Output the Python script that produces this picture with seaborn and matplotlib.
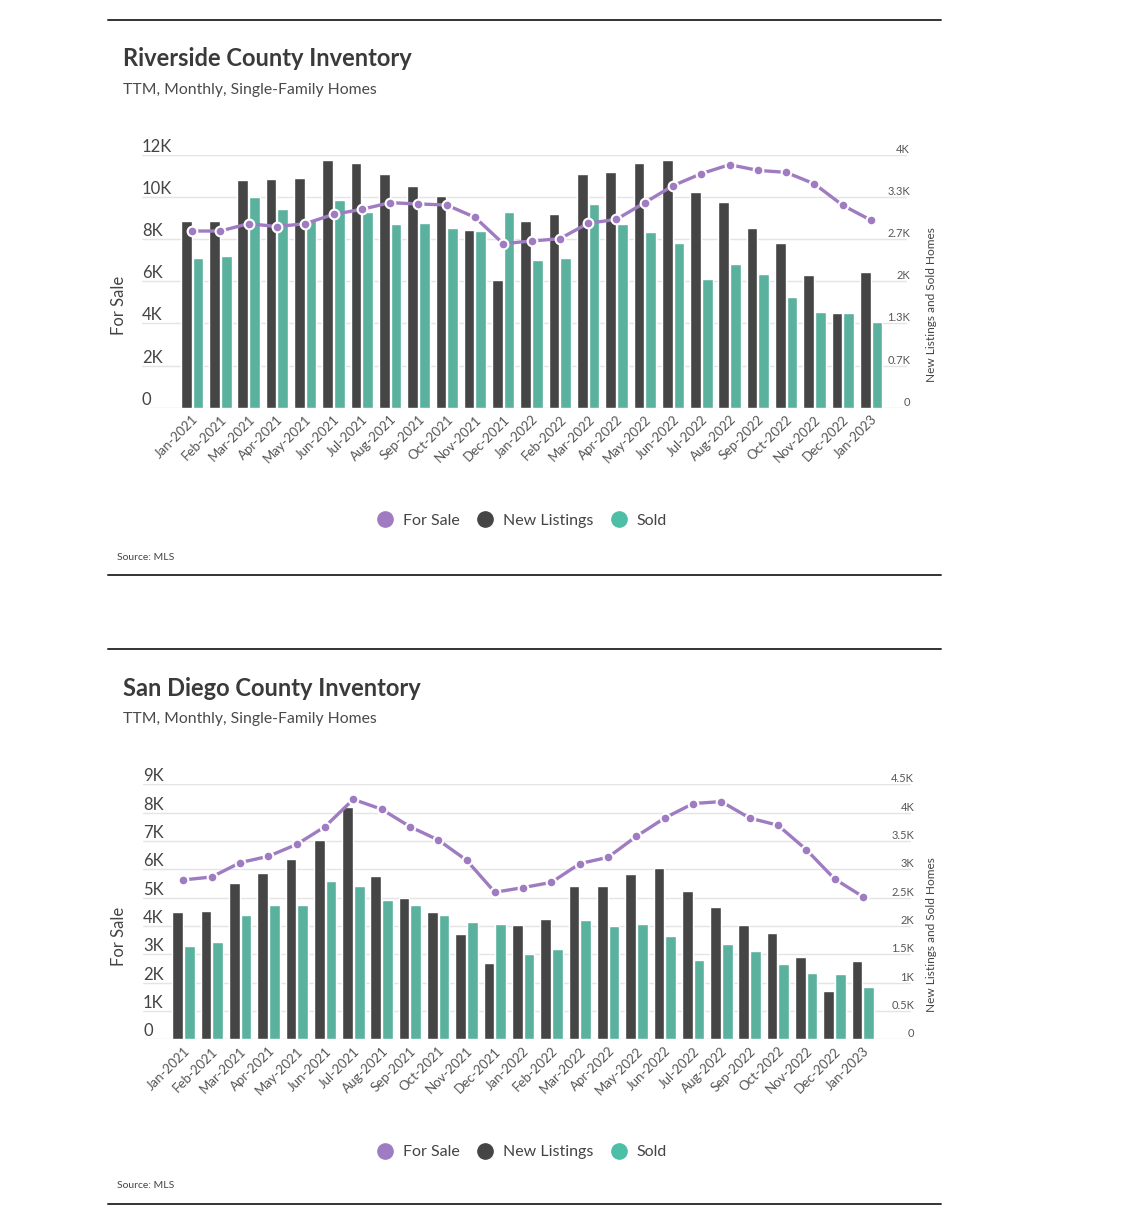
import numpy as np
import pandas as pd
import seaborn as sns
import matplotlib.pyplot as plt
from matplotlib.lines import Line2D

# data
months = ['Jan-2021', 'Feb-2021', 'Mar-2021', 'Apr-2021', 'May-2021', 'Jun-2021',
          'Jul-2021', 'Aug-2021', 'Sep-2021', 'Oct-2021', 'Nov-2021', 'Dec-2021',
          'Jan-2022', 'Feb-2022', 'Mar-2022', 'Apr-2022', 'May-2022', 'Jun-2022',
          'Jul-2022', 'Aug-2022', 'Sep-2022', 'Oct-2022', 'Nov-2022', 'Dec-2022',
          'Jan-2023']

riverside_for_sale = [8390, 8390, 8740, 8600, 8740, 9180, 9420, 9735, 9675, 9625, 9040, 7790,
                      7915, 8025, 8755, 8945, 9735, 10545, 11115, 11540, 11270, 11175, 10625, 9610,
                      8900]
riverside_new_listings = [2960, 2960, 3600, 3615, 3630, 3925, 3880, 3705, 3515, 3355, 2805, 2020,
                          2960, 3060, 3705, 3725, 3880, 3915, 3415, 3255, 2840, 2610, 2095, 1495,
                          2150]
riverside_sold = [2375, 2405, 3330, 3140, 2970, 3295, 3100, 2910, 2930, 2840, 2790, 3105,
                  2340, 2375, 3225, 2910, 2775, 2610, 2040, 2275, 2115, 1750, 1510, 1495,
                  1350]

sd_for_sale = [5625, 5730, 6235, 6460, 6880, 7505, 8470, 8120, 7505, 7035, 6320, 5190,
               5355, 5540, 6200, 6425, 7165, 7810, 8320, 8390, 7810, 7555, 6695, 5660,
               5035]
sd_new_listings = [2245, 2265, 2765, 2940, 3190, 3520, 4095, 2880, 2500, 2245, 1865, 1340,
                   2010, 2130, 2710, 2710, 2920, 3020, 2610, 2340, 2010, 1880, 1455, 860,
                   1375]
sd_sold = [1645, 1725, 2190, 2365, 2365, 2790, 2710, 2455, 2365, 2190, 2070, 2030,
           1510, 1590, 2105, 2000, 2035, 1825, 1400, 1690, 1555, 1325, 1165, 1145,
           930]

riverside_left_ticks = [0, 2000, 4000, 6000, 8000, 10000, 12000]
riverside_left_labels = ['0', '2K', '4K', '6K', '8K', '10K', '12K']
riverside_right_ticks = [0, 4000 / 6, 8000 / 6, 2000, 16000 / 6, 20000 / 6, 4000]
riverside_right_labels = ['0', '0.7K', '1.3K', '2K', '2.7K', '3.3K', '4K']

sd_left_ticks = [0, 1000, 2000, 3000, 4000, 5000, 6000, 7000, 8000, 9000]
sd_left_labels = ['0', '1K', '2K', '3K', '4K', '5K', '6K', '7K', '8K', '9K']
sd_right_ticks = [0, 500, 1000, 1500, 2000, 2500, 3000, 3500, 4000, 4500]
sd_right_labels = ['0', '0.5K', '1K', '1.5K', '2K', '2.5K', '3K', '3.5K', '4K', '4.5K']

PURPLE = '#9f7cc2'
DARK = '#454545'
TEAL = '#4cbfa6'
GRID = '#e4e4e4'
TXT = '#444444'

sns.set_theme(style='white')
plt.rcParams['font.family'] = ['Lato', 'DejaVu Sans']

W, H = 1148, 1227
fig = plt.figure(figsize=(W / 100, H / 100), dpi=100)


def px(x0, y0, x1, y1):
    # pixel box -> figure fraction rect
    return [x0 / W, 1 - y1 / H, (x1 - x0) / W, (y1 - y0) / H]


def draw_panel(rect, xlim, for_sale, new_listings, sold,
               lticks, llabels, rticks, rlabels):
    ax = fig.add_axes(rect)
    ax2 = ax.twinx()

    bars = pd.DataFrame({
        'month': months * 2,
        'value': new_listings + sold,
        'series': ['New Listings'] * len(months) + ['Sold'] * len(months),
    })
    sns.barplot(data=bars, x='month', y='value', hue='series', order=months,
                palette={'New Listings': DARK, 'Sold': TEAL}, width=0.826, gap=0.085,
                legend=False, ax=ax2, zorder=2)

    line = pd.DataFrame({'month': months, 'for_sale': for_sale})
    sns.pointplot(data=line, x='month', y='for_sale', order=months, color=PURPLE,
                  errorbar=None, ax=ax, markersize=7, linewidth=2.4,
                  markeredgecolor='white', markeredgewidth=1.5)

    ax.set_zorder(ax2.get_zorder() + 1)
    ax.patch.set_visible(False)

    ax.set_xlim(*xlim)
    ax.set_ylim(lticks[0], lticks[-1])
    ax2.set_ylim(rticks[0], rticks[-1])

    for a in (ax, ax2):
        for s in a.spines.values():
            s.set_visible(False)
        a.set_ylabel('')
        a.set_xlabel('')
        a.set_yticks([])

    # grid on the bar axis, below the bars
    for t in rticks:
        ax2.axhline(t, color=GRID, lw=1, zorder=0)

    for t, lab in zip(lticks, llabels):
        ax.text(0.0, t, lab, transform=ax.get_yaxis_transform(), ha='left', va='bottom',
                fontsize=12, color=TXT)
    for t, lab in zip(rticks, rlabels):
        ax2.text(1.004, t, lab, transform=ax2.get_yaxis_transform(), ha='right', va='bottom',
                 fontsize=8, color='#555555')

    ax.set_xticks(range(len(months)))
    ax.set_xticklabels(months, rotation=45, ha='right', rotation_mode='anchor',
                       fontsize=9.5, color='#555555')
    ax.tick_params(axis='x', length=0, pad=4)
    return ax


def add_rule(y):
    fig.add_artist(Line2D([108 / W, 941 / W], [1 - y / H] * 2, transform=fig.transFigure,
                          color='#333333', lw=1.4))


def add_header(y_title, title):
    fig.text(123 / W, 1 - y_title / H, title, fontsize=17, fontweight='bold',
             color='#3a3a3a', va='center', ha='left')
    fig.text(123 / W, 1 - (y_title + 31) / H, 'TTM, Monthly, Single-Family Homes',
             fontsize=11.3, color='#4a4a4a', va='center', ha='left')


def add_legend(y):
    handles = [Line2D([], [], marker='o', ls='', markersize=11, color=c)
               for c in (PURPLE, DARK, TEAL)]
    fig.legend(handles, ['For Sale', 'New Listings', 'Sold'], loc='center',
               bbox_to_anchor=(518 / W, 1 - y / H), ncol=3, frameon=False,
               handletextpad=0.1, columnspacing=0.6, fontsize=11.5, labelcolor='#444444')


# Riverside
add_rule(20)
add_header(59, 'Riverside County Inventory')
draw_panel(px(142, 155, 907, 407.7), (-1.77, 25.27),
           riverside_for_sale, riverside_new_listings, riverside_sold,
           riverside_left_ticks, riverside_left_labels,
           riverside_right_ticks, riverside_right_labels)
fig.text(119 / W, 1 - 305 / H, 'For Sale', rotation=90, fontsize=12, color=TXT,
         ha='center', va='center')
fig.text(931 / W, 1 - 305 / H, 'New Listings and Sold Homes', rotation=90, fontsize=8.6,
         color=TXT, ha='center', va='center')
add_legend(521)
fig.text(117 / W, 1 - 557 / H, 'Source: MLS', fontsize=7.5, color='#444444', va='center')
add_rule(575)

# San Diego
add_rule(649)
add_header(688, 'San Diego County Inventory')
draw_panel(px(143, 784.3, 911, 1039.3), (-1.43, 25.7),
           sd_for_sale, sd_new_listings, sd_sold,
           sd_left_ticks, sd_left_labels, sd_right_ticks, sd_right_labels)
fig.text(119 / W, 1 - 936 / H, 'For Sale', rotation=90, fontsize=12, color=TXT,
         ha='center', va='center')
fig.text(931 / W, 1 - 935 / H, 'New Listings and Sold Homes', rotation=90, fontsize=8.6,
         color=TXT, ha='center', va='center')
add_legend(1152)
fig.text(117 / W, 1 - 1186 / H, 'Source: MLS', fontsize=7.5, color='#444444', va='center')
add_rule(1204)

fig.savefig('out.png', dpi=100, facecolor='white')
